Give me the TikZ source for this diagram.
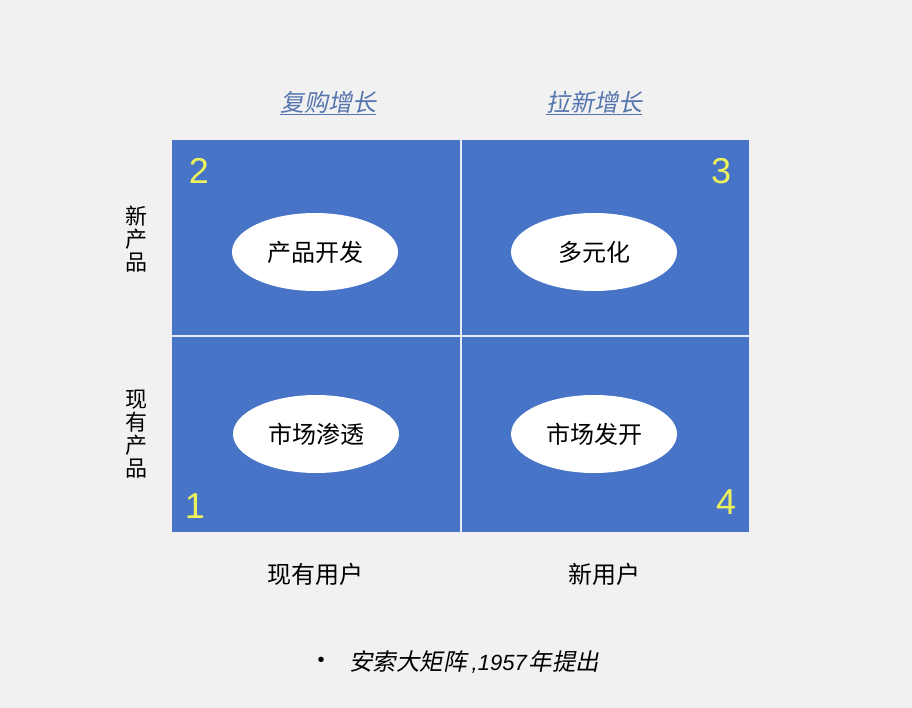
\documentclass[tikz,border=0pt]{standalone}
\usepackage{fontspec}
\usetikzlibrary{shapes.geometric}
\newfontfamily\cjk{Noto Sans CJK SC}
\newfontfamily\cjkit[FakeSlant=0.2]{Noto Sans CJK SC}
\newfontfamily\arialf{Liberation Sans}
\newfontfamily\arialit{Liberation Sans Italic}
\definecolor{bgc}{HTML}{F1F1F1}
\definecolor{cellblue}{HTML}{4874C8}
\definecolor{toplab}{HTML}{5575AE}
\definecolor{numyel}{HTML}{EEF25A}
\definecolor{divc}{HTML}{E4ECF8}
\tikzset{
  cell/.style={fill=cellblue, draw=none},
  oval/.style={ellipse, fill=white, draw=none, minimum width=166pt, minimum height=78pt, inner sep=0pt, font=\cjk\fontsize{24}{26}\selectfont, text=black},
  num/.style={font=\arialf\fontsize{36}{40}\selectfont, text=numyel, inner sep=0pt},
  toplabel/.style={font=\cjkit\fontsize{24}{26}\selectfont, text=toplab, inner sep=0pt},
  sidelabel/.style={font=\cjk\fontsize{22}{23}\selectfont, align=center, inner sep=0pt},
  botlabel/.style={font=\cjk\fontsize{24}{26}\selectfont, inner sep=0pt},
  divider/.style={draw=divc, line width=1.6pt}
}
\begin{document}
\begin{tikzpicture}[x=1pt,y=-1pt]
\fill[bgc] (0,0) rectangle (912,708);
\useasboundingbox (0,0) rectangle (912,708);
% grid
\fill[cell] (172,140) rectangle (749,532);
\coordinate (vt) at (461,140);
\coordinate (vb) at (461,532);
\coordinate (hl) at (172,336);
\coordinate (hr) at (749,336);
\draw[divider] (vt) -- (vb);
\draw[divider] (hl) -- (hr);
% ellipses
\node[oval] (e2) at (315,252) {产品开发};
\node[oval] (e3) at (594,252) {多元化};
\node[oval] (e1) at (316,434) {市场渗透};
\node[oval] (e4) at (594,434) {市场发开};
% numbers
\node[num] (n2) at (199,171) {2};
\node[num] (n3) at (721,171) {3};
\node[num] (n1) at (195,506) {1};
\node[num] (n4) at (726,502) {4};
% top labels
\node[toplabel] (t1) at (328,103) {\underline{复购增长}};
\node[toplabel] (t2) at (594,103) {\underline{拉新增长}};
% side labels
\node[sidelabel] (s1) at (136,239) {新\\产\\品};
\node[sidelabel] (s2) at (136,434) {现\\有\\产\\品};
% bottom labels
\node[botlabel] (b1) at (315,574) {现有用户};
\node[botlabel] (b2) at (604,574) {新用户};
% footnote
\node[font=\arialf\fontsize{20}{24}\selectfont, inner sep=0pt] (bul) at (321,662) {•};
\node[anchor=west, inner sep=0pt, font=\cjkit\fontsize{23.5}{26}\selectfont] (foot) at (349,662) {安索大矩阵\hspace{5pt}{\arialit\fontsize{22}{26}\selectfont ,1957}\hspace{2pt}年提出};
\end{tikzpicture}
\end{document}
